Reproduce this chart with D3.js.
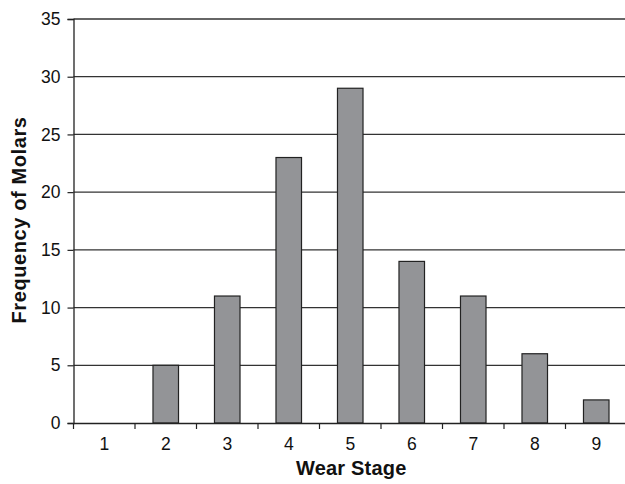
<!DOCTYPE html>
<html><head><meta charset="utf-8">
<script src="https://cdn.jsdelivr.net/npm/d3@7"></script>
<style>body{margin:0;background:#fff}svg{display:block}text{font-family:"Liberation Sans",Arial,sans-serif;fill:#111}</style>
</head><body>
<svg id="c" width="625" height="484"></svg>
<script>
const categories = ["1","2","3","4","5","6","7","8","9"];
const values = [0,5,11,23,29,14,11,6,2];
const yTicks = [0,5,10,15,20,25,30,35];
const xTitle = "Wear Stage";
const yTitle = "Frequency of Molars";

(function(){
const svg = d3.select("#c");
const pl = 73.5, pr = 627, pt = 19, pb = 423;
const x = d3.scaleBand().domain(categories).range([pl, pr]).padding(0);
const y = d3.scaleLinear().domain([0,35]).range([pb, pt]);
const barW = x.bandwidth()*0.415;

// gridlines
svg.append("g").selectAll("line").data(yTicks.filter(d=>d>0)).join("line")
  .attr("x1", pl).attr("x2", pr)
  .attr("y1", d=>y(d)).attr("y2", d=>y(d))
  .attr("stroke", "#333").attr("stroke-width", 1.3);

// bars
svg.append("g").selectAll("rect").data(values).join("rect")
  .attr("x", (d,i)=>x(categories[i]) + x.bandwidth()/2 - barW/2)
  .attr("y", d=>y(d)).attr("width", barW).attr("height", d=>pb - y(d))
  .attr("fill", "#939497").attr("stroke", "#222").attr("stroke-width", 1.2)
  .attr("display", d=>d>0?null:"none");

// y axis
const ya = svg.append("g").attr("transform", `translate(${pl},0)`)
  .call(d3.axisLeft(y).tickValues(yTicks).tickSize(6).tickPadding(7));
ya.select(".domain").attr("stroke","#222").attr("stroke-width",1.3);
ya.selectAll(".tick line").attr("stroke","#222").attr("stroke-width",1.2);
ya.selectAll(".tick text").attr("font-size", 17.5).attr("fill","#111").attr("font-family","Liberation Sans, Arial, sans-serif");

// x axis
const xa = svg.append("g").attr("transform", `translate(0,${pb})`)
  .call(d3.axisBottom(x).tickSize(0).tickPadding(15));
xa.select(".domain").attr("stroke","#222").attr("stroke-width",1.3);
xa.selectAll(".tick text").attr("font-size", 17.5).attr("fill","#111").attr("font-family","Liberation Sans, Arial, sans-serif");
// category boundary tick marks
const bounds = categories.map(c=>x(c)).slice(1).concat([x(categories[categories.length-1])+x.bandwidth()]);
svg.append("g").selectAll("line").data([pl].concat(bounds)).join("line")
  .attr("x1", d=>d).attr("x2", d=>d).attr("y1", pb).attr("y2", pb+6)
  .attr("stroke","#222").attr("stroke-width",1.2);

// titles
svg.append("text").attr("x", (pl+pr)/2 + 1).attr("y", 475).attr("text-anchor","middle")
  .attr("font-size", 20).attr("letter-spacing", 0.2).attr("font-weight","bold").text(xTitle);
svg.append("text").attr("transform", `translate(25.5,${(pt+pb)/2 - 1}) rotate(-90)`).attr("text-anchor","middle")
  .attr("font-size", 20).attr("letter-spacing", 0.6).attr("font-weight","bold").text(yTitle);
})();
</script>
</body></html>
